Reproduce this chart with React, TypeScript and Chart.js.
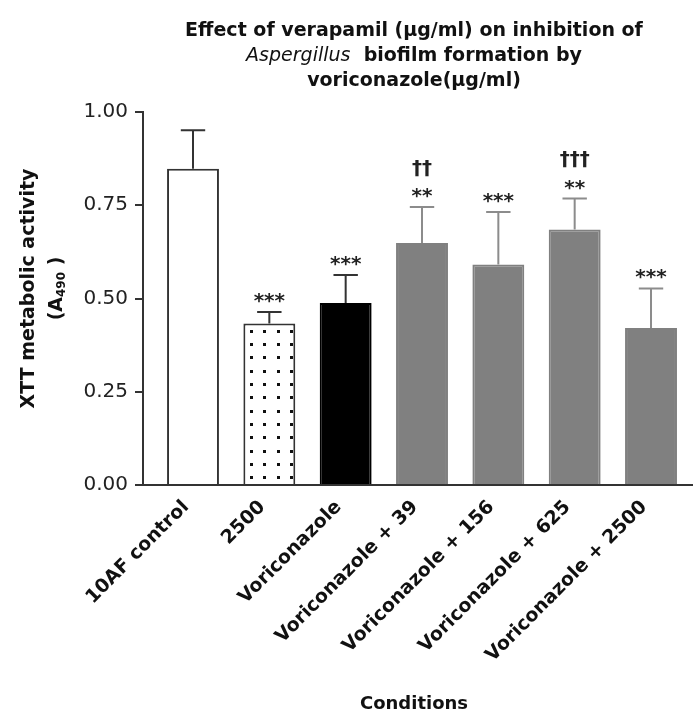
import React, { useEffect, useRef } from 'react';
import { Chart, registerables } from 'chart.js';

Chart.register(...registerables);

// ---- data ----
const categories = [
  '10AF control',
  '2500',
  'Voriconazole',
  'Voriconazole + 39',
  'Voriconazole + 156',
  'Voriconazole + 625',
  'Voriconazole + 2500',
];
const means = [0.848, 0.433, 0.488, 0.649, 0.591, 0.685, 0.421];
const errors = [0.103, 0.031, 0.075, 0.096, 0.141, 0.083, 0.106];
const stars = ['', '***', '***', '**', '***', '**', '***'];
const daggers = ['', '', '', '††', '', '†††', ''];
const yTicks = [0, 0.25, 0.5, 0.75, 1.0];

const FAMILY = '"DejaVu Sans", sans-serif';

function makeDotPattern(): CanvasPattern | string {
  const c = document.createElement('canvas');
  c.width = 40;
  c.height = 40;
  const g = c.getContext('2d');
  if (!g) return '#ffffff';
  g.fillStyle = '#ffffff';
  g.fillRect(0, 0, 40, 40);
  g.fillStyle = '#111111';
  const xs = [10, 23, 37];
  const ys = [10, 23, 36];
  xs.forEach((x) => ys.forEach((y) => g.fillRect(x, y, 3, 3)));
  const p = g.createPattern(c, 'repeat');
  return p || '#ffffff';
}

function drawGlyphCentered(ctx: CanvasRenderingContext2D, text: string, x: number, cy: number, font: string) {
  if (!text) return;
  ctx.font = font;
  ctx.textAlign = 'center';
  ctx.textBaseline = 'alphabetic';
  const m = ctx.measureText(text);
  const a = m.actualBoundingBoxAscent;
  const d = m.actualBoundingBoxDescent;
  ctx.fillText(text, x, cy + (a - d) / 2);
}

function drawParts(
  ctx: CanvasRenderingContext2D,
  parts: { t: string; f: string; dy?: number }[],
  cx: number,
  baseline: number
) {
  let total = 0;
  const widths = parts.map((p) => {
    ctx.font = p.f;
    const w = ctx.measureText(p.t).width;
    total += w;
    return w;
  });
  let x = cx - total / 2;
  ctx.textAlign = 'left';
  ctx.textBaseline = 'alphabetic';
  parts.forEach((p, i) => {
    ctx.font = p.f;
    ctx.fillText(p.t, x, baseline + (p.dy || 0));
    x += widths[i];
  });
}

const overlayPlugin = {
  id: 'overlay',
  afterDatasetsDraw(chart: any) {
    const ctx: CanvasRenderingContext2D = chart.ctx;
    const meta = chart.getDatasetMeta(0);
    const ys = chart.scales.y;
    meta.data.forEach((bar: any, i: number) => {
      const { x, y, width } = bar.getProps(['x', 'y', 'width'], true);
      const top = ys.getPixelForValue(means[i] + errors[i]);
      const col = i < 3 ? '#333333' : '#8c8c8c';
      ctx.save();
      ctx.strokeStyle = col;
      ctx.lineWidth = 2;
      ctx.beginPath();
      ctx.moveTo(x, y);
      ctx.lineTo(x, top);
      const cw = width * 0.47;
      ctx.moveTo(x - cw / 2, top);
      ctx.lineTo(x + cw / 2, top);
      ctx.stroke();
      ctx.fillStyle = '#222222';
      drawGlyphCentered(ctx, stars[i], x, top - 14, `bold 20px ${FAMILY}`);
      drawGlyphCentered(ctx, daggers[i], x, top - 39, `bold 20px ${FAMILY}`);
      ctx.restore();
    });
  },
  afterDraw(chart: any) {
    const ctx: CanvasRenderingContext2D = chart.ctx;
    const area = chart.chartArea;
    ctx.save();
    ctx.fillStyle = '#111111';
    const cx = (area.left + area.right) / 2 - 4;
    const bold = `bold 19px ${FAMILY}`;
    drawParts(ctx, [{ t: 'Effect of verapamil (µg/ml) on inhibition of', f: bold }], cx, 36);
    drawParts(
      ctx,
      [
        { t: 'Aspergillus', f: `italic 19px ${FAMILY}` },
        { t: '  biofilm formation by', f: bold },
      ],
      cx,
      61
    );
    drawParts(ctx, [{ t: 'voriconazole(µg/ml)', f: bold }], cx, 86);

    // x axis title
    drawParts(ctx, [{ t: 'Conditions', f: `bold 18px ${FAMILY}` }], cx, 709);

    // y axis title
    const cy = (area.top + area.bottom) / 2 - 10;
    ctx.save();
    ctx.translate(34, cy);
    ctx.rotate(-Math.PI / 2);
    drawParts(ctx, [{ t: 'XTT metabolic activity', f: bold }], 0, 0);
    ctx.restore();
    ctx.save();
    ctx.translate(62, cy);
    ctx.rotate(-Math.PI / 2);
    drawParts(
      ctx,
      [
        { t: '(A', f: bold },
        { t: '490', f: `bold 12px ${FAMILY}`, dy: 3 },
        { t: ' )', f: bold },
      ],
      0,
      0
    );
    ctx.restore();
    ctx.restore();
  },
};

export default function App() {
  const ref = useRef<HTMLCanvasElement | null>(null);

  useEffect(() => {
    const canvas = ref.current;
    if (!canvas) return;
    const dots = makeDotPattern();
    const chart = new Chart(canvas, {
      type: 'bar',
      data: {
        datasets: [
          {
            data: means.map((v, i) => ({ x: i, y: v })),
            backgroundColor: ['#ffffff', dots, '#000000', '#808080', '#808080', '#808080', '#808080'] as any,
            borderColor: ['#333333', '#333333', '#000000', '#808080', '#808080', '#808080', '#808080'],
            borderWidth: 2,
            barPercentage: 0.68,
            categoryPercentage: 1,
          },
        ],
      },
      options: {
        responsive: false,
        animation: false,
        devicePixelRatio: 1,
        layout: { padding: { top: 112, left: 0, right: 0, bottom: 0 } },
        plugins: {
          legend: { display: false },
          tooltip: { enabled: false },
          title: { display: false },
        },
        scales: {
          x: {
            type: 'linear',
            offset: false,
            min: -0.655,
            max: 6.55,
            afterBuildTicks: (s: any) => {
              s.ticks = categories.map((_, i) => ({ value: i }));
            },
            afterFit: (s: any) => {
              s.height = 228;
            },
            ticks: {
              autoSkip: false,
              minRotation: 45,
              maxRotation: 45,
              padding: 11,
              labelOffset: -7,
              color: '#111111',
              font: { family: FAMILY, size: 19, weight: 'bold' },
              callback: (v: any) => categories[Math.round(Number(v))] ?? '',
            },
            grid: { display: false, drawTicks: false },
            border: { display: true, color: '#333333', width: 2 },
            title: { display: false },
          },
          y: {
            min: 0,
            max: 1,
            afterBuildTicks: (s: any) => {
              s.ticks = yTicks.map((v) => ({ value: v }));
            },
            afterFit: (s: any) => {
              s.width = 143;
            },
            ticks: {
              padding: 7,
              color: '#222222',
              font: { family: FAMILY, size: 20 },
              callback: (v: any) => Number(v).toFixed(2),
            },
            grid: {
              display: true,
              drawOnChartArea: false,
              drawTicks: true,
              tickLength: 8,
              color: '#333333',
              lineWidth: 2,
            },
            border: { display: true, color: '#333333', width: 2 },
          },
        },
      } as any,
      plugins: [overlayPlugin],
    });
    return () => chart.destroy();
  }, []);

  return (
    <div style={{ position: 'absolute', left: 0, top: 0, width: 693, height: 713, background: '#ffffff' }}>
      <canvas ref={ref} width={693} height={713} style={{ display: 'block' }} />
    </div>
  );
}
